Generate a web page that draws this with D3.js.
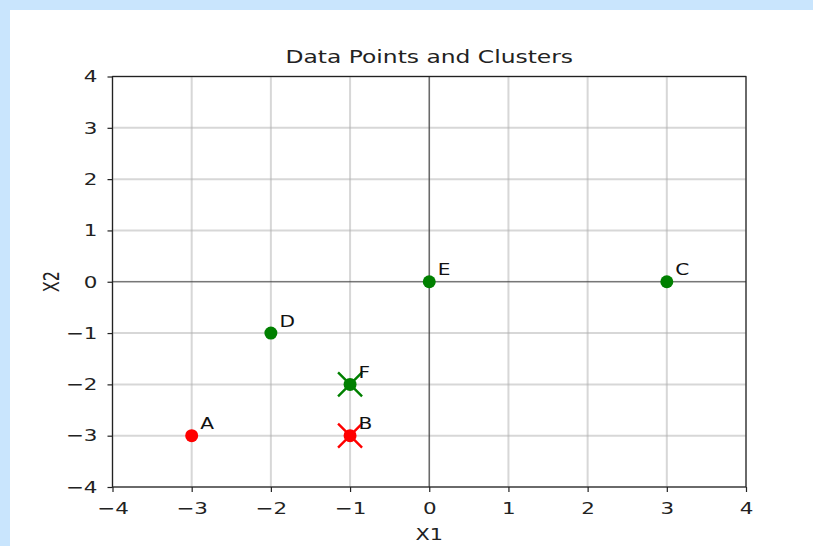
<!DOCTYPE html>
<html><head><meta charset="utf-8">
<script src="https://cdn.jsdelivr.net/npm/d3@7"></script>
<style>
html,body{margin:0;padding:0;background:#c9e5fd;}
svg{display:block;}
text{font-family:"DejaVu Sans",sans-serif;}
</style></head>
<body><svg id="c" width="813" height="546"></svg>
<script>
const labels = ["A","B","C","D","E","F"];
const xs = [-3,-1,3,-2,0,-1];
const ys = [-3,-3,0,-1,0,-2];
const cluster = ["red","red","green","green","green","green"];
const centroidX = [-1,-1];
const centroidY = [-3,-2];
const centroidColor = ["red","green"];
const ticks = [-4,-3,-2,-1,0,1,2,3,4];

const colors = {red:"#ff0000", green:"#008000"};
const SX = 1.3; // horizontal glyph stretch seen in the reference
const svg = d3.select("#c");
svg.append("rect").attr("x",10).attr("y",10).attr("width",803).attr("height",536).attr("fill","#fff");

const L=112.5,R=746,T=76.5,B=487;
const x = d3.scaleLinear().domain([-4,4]).range([L,R]);
const y = d3.scaleLinear().domain([-4,4]).range([B,T]);

function stext(parent, px, py, str, size, anchor){
  return parent.append("text").attr("transform",`translate(${px},${py}) scale(${SX},1)`)
    .attr("text-anchor",anchor||"start").attr("font-size",size).attr("fill","#222").text(str);
}

// grid
const g = svg.append("g");
ticks.forEach(t=>{
  g.append("line").attr("x1",x(t)).attr("x2",x(t)).attr("y1",T).attr("y2",B).attr("stroke","#b0b0b0").attr("stroke-opacity",0.5).attr("stroke-width",2);
  g.append("line").attr("y1",y(t)).attr("y2",y(t)).attr("x1",L).attr("x2",R).attr("stroke","#b0b0b0").attr("stroke-opacity",0.5).attr("stroke-width",2);
});
// zero lines
g.append("line").attr("x1",x(0)).attr("x2",x(0)).attr("y1",T).attr("y2",B).attr("stroke","#000").attr("stroke-opacity",0.6).attr("stroke-width",1.2);
g.append("line").attr("y1",y(0)).attr("y2",y(0)).attr("x1",L).attr("x2",R).attr("stroke","#000").attr("stroke-opacity",0.6).attr("stroke-width",1.2);

// axes
const fmt = d=> d<0 ? "\u2212"+Math.abs(d) : String(d);
const xa = svg.append("g").attr("transform",`translate(0,${B})`).call(d3.axisBottom(x).tickValues(ticks).tickFormat(fmt).tickSize(5).tickPadding(10));
const ya = svg.append("g").attr("transform",`translate(${L},0)`).call(d3.axisLeft(y).tickValues(ticks).tickFormat(fmt).tickSize(5).tickPadding(10));
[xa,ya].forEach(a=>{
  a.select(".domain").remove();
  a.selectAll("line").attr("stroke","#222").attr("stroke-width",1.2);
  a.selectAll("text").attr("font-size",16.5).attr("fill","#222").style("font-family","DejaVu Sans");
});
xa.selectAll("text").attr("transform",`scale(${SX},1)`);
ya.selectAll("text").attr("x",-15/SX).attr("transform",`scale(${SX},1)`);
// frame
svg.append("rect").attr("x",L).attr("y",T).attr("width",R-L).attr("height",B-T).attr("fill","none").attr("stroke","#222").attr("stroke-width",1.2);

// points
const pts = svg.append("g");
labels.forEach((lab,i)=>{
  pts.append("circle").attr("cx",x(xs[i])).attr("cy",y(ys[i])).attr("r",6.5).attr("fill",colors[cluster[i]]);
});
// centroids
centroidX.forEach((cx,i)=>{
  const px=x(cx), py=y(centroidY[i]), s=12;
  pts.append("path").attr("d",`M${px-s},${py-s}L${px+s},${py+s}M${px-s},${py+s}L${px+s},${py-s}`).attr("stroke",colors[centroidColor[i]]).attr("stroke-width",2.4).attr("fill","none");
});
labels.forEach((lab,i)=>{
  stext(pts, x(xs[i])+8.5, y(ys[i])-6.5, lab, 15.5).attr("fill","#111");
});

// titles
stext(svg,(L+R)/2,63,"Data Points and Clusters",18,"middle");
stext(svg,(L+R)/2,540,"X1",16,"middle");
svg.append("text").attr("transform",`translate(59,${(T+B)/2}) scale(${SX},1) rotate(-90)`).attr("text-anchor","middle").attr("font-size",16).attr("fill","#222").text("X2");
</script></body></html>
